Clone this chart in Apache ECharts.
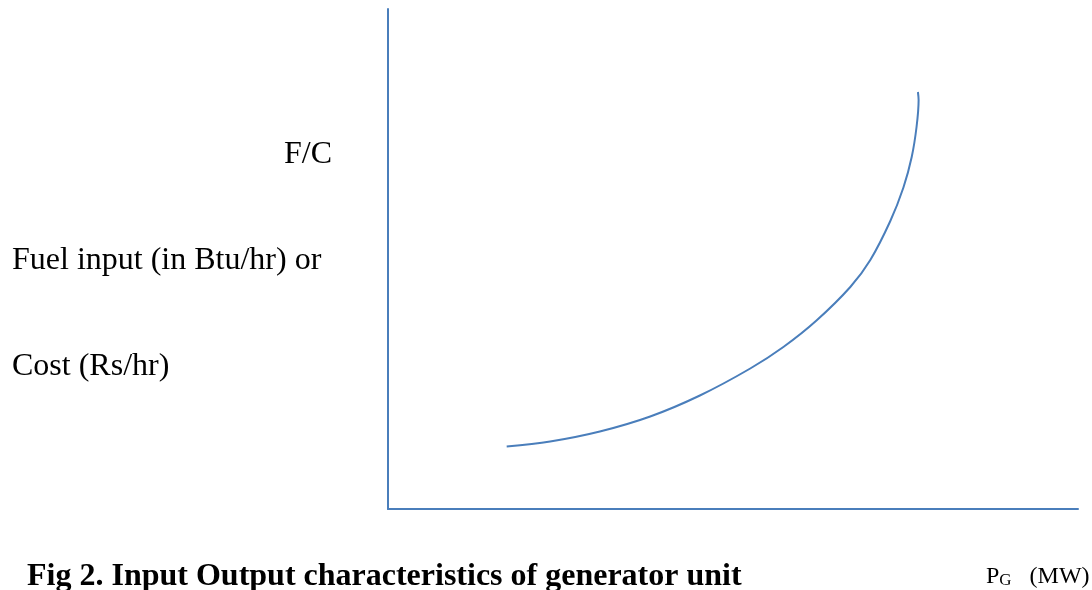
<!DOCTYPE html>
<html>
<head>
<meta charset="utf-8">
<script src="https://cdn.jsdelivr.net/npm/echarts@6/dist/echarts.min.js"></script>
<style>
  html, body { margin: 0; padding: 0; background: #fff; }
  #chart { width: 1092px; height: 590px; }
</style>
</head>
<body>
<div id="chart"></div>
<script>
// curve (axis units: x 0..100, y 0..100)
const powerOut = [17.2, 23.5, 30.7, 38.0, 45.2, 52.5, 57.3, 62.1, 67.0, 69.9, 72.8, 74.7, 75.9, 76.6, 76.9, 76.8];
const fuelCost = [12.5, 13.5, 15.5, 18.5, 22.7, 28.1, 32.4, 37.7, 44.4, 49.8, 57.6, 64.3, 70.4, 76.4, 81.8, 83.4];

const yLabels = ['F/C', 'Fuel input (in Btu/hr) or', 'Cost (Rs/hr)'];
const caption = 'Fig 2. Input Output characteristics of generator unit';

const blue = '#4a7ebb';
const serif = "'Liberation Serif', 'Times New Roman', serif";

const chart = echarts.init(document.getElementById('chart'));

const axisBase = {
  type: 'value',
  min: 0,
  max: 100,
  axisLine: { show: true, lineStyle: { color: blue, width: 2 } },
  axisTick: { show: false },
  axisLabel: { show: false },
  splitLine: { show: false }
};

chart.setOption({
  animation: false,
  grid: { left: 388, right: 14, top: 9, bottom: 81 },
  xAxis: axisBase,
  yAxis: axisBase,
  series: [{
    type: 'line',
    data: powerOut.map((x, i) => [x, fuelCost[i]]),
    smooth: 0.35,
    showSymbol: false,
    lineStyle: { color: blue, width: 2 }
  }],
  graphic: [
    { type: 'text', left: 284, top: 139, style: { text: yLabels[0], font: '32px ' + serif, fill: '#000' } },
    { type: 'text', left: 12, top: 245, style: { text: yLabels[1], font: '32px ' + serif, fill: '#000' } },
    { type: 'text', left: 12, top: 351, style: { text: yLabels[2], font: '32px ' + serif, fill: '#000' } },
    { type: 'text', left: 27, top: 561, style: { text: caption, font: 'bold 32px ' + serif, fill: '#000' } },
    {
      type: 'text', left: 986, top: 565,
      style: {
        text: '{p|P}{g|G}{n|(MW)}',
        rich: {
          p: { fontSize: 24, fontFamily: serif, fill: '#000', verticalAlign: 'bottom' },
          g: { fontSize: 17, fontFamily: serif, fill: '#000', verticalAlign: 'bottom' },
          n: { fontSize: 24, fontFamily: serif, fill: '#000', verticalAlign: 'bottom', padding: [0, 0, 0, 18] }
        }
      }
    }
  ]
});
</script>
</body>
</html>
